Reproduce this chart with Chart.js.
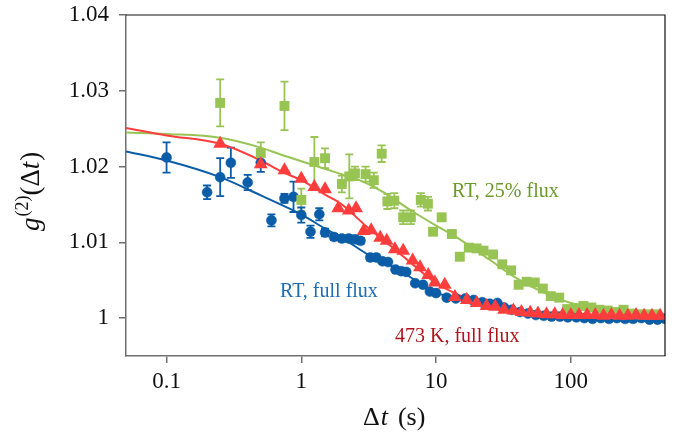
<!DOCTYPE html>
<html>
<head>
<meta charset="utf-8">
<script src="https://cdn.jsdelivr.net/npm/chart.js@4.4.0/dist/chart.umd.min.js"></script>
<style>
html, body { margin: 0; padding: 0; background: #fff; }
</style>
</head>
<body>
<canvas id="c" width="673" height="435"></canvas>
<script>
// tick labels
const xTicks = [0.1, 1, 10, 100];
const yTicks = [1, 1.01, 1.02, 1.03, 1.04];

// RT, full flux (circles)
const blueX = [0.1, 0.2, 0.25, 0.3, 0.4, 0.5, 0.6, 0.75, 0.875, 1, 1.17, 1.36, 1.5, 1.75, 2, 2.25, 2.5, 2.75, 3.25, 3.6,
  4, 4.4, 5, 5.5, 6, 7, 8, 9, 10, 12, 14, 16.5, 19, 22, 25, 28.5, 32, 36.5, 42, 48,
  55, 63, 72, 83, 95, 110, 126, 145, 167, 192, 220, 253, 290, 334, 384, 440, 500];
const blueY = [1.0212, 1.0166, 1.0186, 1.0205, 1.0179, 1.0205, 1.0129, 1.0158, 1.0160, 1.0136, 1.0114, 1.0137, 1.0113, 1.0107, 1.0105, 1.0105, 1.0104, 1.0102, 1.0080, 1.0080,
  1.0075, 1.0074, 1.0064, 1.0062, 1.0061, 1.0046, 1.0044, 1.0035, 1.0033, 1.0027, 1.0026, 1.0026, 1.0024, 1.0021, 1.0019, 1.0020, 1.0014, 1.0011, 1.0008, 1.0006,
  1.0004, 1.0003, 1.0002, 1.0002, 1.0001, 1.0001, 1.0000, 0.9999, 1.0000, 0.9999, 1.0000, 0.9999, 0.9999, 1.0000, 0.9998, 0.9998, 0.9999];
const blueErr = [0.002, 0.0009, 0.0025, 0.002, 0.001, 0.0012, 0.0008, 0.0006, 0.002, 0.001, 0.0008, 0.0008, 0.0005, 0.0004, 0.0004, 0.0004, 0.0004, 0.0004, 0.0004, 0.0004];

// 473 K, full flux (triangles)
const redX = [0.25, 0.5, 0.75, 1, 1.25, 1.5, 1.88, 2.25, 2.55, 2.9, 3.3, 3.85, 4.3, 4.95, 5.7, 6.7, 7.6, 8.75, 9.8, 11.6,
  13.8, 16.9, 20, 23.7, 27.5, 32, 37.5, 43, 50, 57, 66, 76, 87, 100, 115, 132, 152, 175, 200, 230,
  265, 305, 350, 400, 460];
const redY = [1.0230, 1.0203, 1.0195, 1.0184, 1.0173, 1.0170, 1.0145, 1.0142, 1.0145, 1.0115, 1.0116, 1.0106, 1.0102, 1.0091, 1.0089, 1.0076, 1.0067, 1.0057, 1.0047, 1.0044,
  1.0028, 1.0024, 1.0020, 1.0016, 1.0015, 1.0011, 1.0010, 1.0008, 1.0007, 1.0006, 1.0005, 1.0005, 1.0004, 1.0004, 1.0004, 1.0004, 1.0004, 1.0003, 1.0004, 1.0003,
  1.0003, 1.0004, 1.0003, 1.0003, 1.0003];

// RT, 25% flux (squares)
const greenX = [0.25, 0.5, 0.75, 1, 1.25, 1.5, 2, 2.27, 2.5, 3, 3.45, 3.95, 4.35, 4.9, 5.7, 6.5, 7.7, 8.7, 9.5, 11,
  13.1, 15, 17.5, 20, 22.5, 26.5, 31, 36, 41, 47, 54, 62, 71, 82, 94, 108, 124, 142, 163, 188,
  216, 246, 283, 325, 373, 428];
const greenY = [1.0284, 1.0218, 1.0280, 1.0156, 1.0206, 1.0211, 1.0177, 1.0187, 1.0191, 1.0190, 1.0182, 1.0217, 1.0154, 1.0155, 1.0133, 1.0133, 1.0156, 1.0151, 1.0114, 1.0133,
  1.0111, 1.0081, 1.0093, 1.0092, 1.0089, 1.0084, 1.0071, 1.0063, 1.0044, 1.0048, 1.0047, 1.0039, 1.0029, 1.0027, 1.0012, 1.0013, 1.0016, 1.0014, 1.0011, 1.0010,
  1.0008, 1.0011, 1.0006, 1.0005, 1.0005, 1.0005];
const greenErr = [0.0031, 0.0014, 0.0032, 0.0015, 0.0033, 0.0013, 0.0011, 0.0029, 0.0009, 0.001, 0.001, 0.0011, 0.001, 0.001, 0.0009, 0.0009, 0.0009, 0.0009];

// fit curves
const blueFitX = [0.05, 0.1, 0.25, 0.5, 0.7, 1, 1.5, 2, 3.25, 5, 7, 10, 15, 20, 30, 50, 100, 200, 500];
const blueFitY = [1.0220, 1.0208, 1.0186, 1.0162, 1.0150, 1.0137, 1.0118, 1.0106, 1.0082, 1.0066, 1.0050, 1.0034, 1.0024, 1.0017, 1.0011, 1.0006, 1.0003, 1.0001, 1.0000];
const redFitX = [0.05, 0.1, 0.25, 0.5, 0.7, 1, 1.5, 2, 3, 5, 7, 10, 15, 20, 30, 50, 100, 200, 500];
const redFitY = [1.0251, 1.0241, 1.0230, 1.0208, 1.0194, 1.0182, 1.0163, 1.0150, 1.0122, 1.0090, 1.0068, 1.0046, 1.0030, 1.0021, 1.0012, 1.0007, 1.0003, 1.0002, 1.0001];
const greenFitX = [0.05, 0.1, 0.25, 0.5, 0.7, 1, 1.9, 2.7, 4, 6.4, 10, 15, 25, 40, 70, 100, 200, 500];
const greenFitY = [1.0245, 1.0243, 1.0238, 1.0225, 1.0216, 1.0207, 1.0191, 1.0182, 1.0167, 1.0143, 1.0122, 1.0104, 1.0077, 1.0052, 1.0030, 1.0020, 1.0009, 1.0005];

const BLUE = '#0a5da6', RED = '#ff3d3d', GREEN = '#98c454';
const SERIF = '"Liberation Serif", "Times New Roman", serif';

const pts = (xs, ys) => xs.map((x, i) => ({ x: x, y: ys[i] }));

// error bars, drawn under the markers
const errorBars = {
  id: 'errorBars',
  beforeDatasetsDraw(chart) {
    const { ctx, chartArea, scales } = chart;
    ctx.save();
    ctx.beginPath();
    ctx.rect(chartArea.left, chartArea.top, chartArea.width, chartArea.height);
    ctx.clip();
    chart.data.datasets.forEach((ds, di) => {
      if (!ds.errors) return;
      const meta = chart.getDatasetMeta(di);
      ctx.strokeStyle = ds.borderColor;
      ctx.lineWidth = 1.8;
      meta.data.forEach((p, i) => {
        const e = ds.errors[i];
        if (!e) return;
        const v = ds.data[i].y;
        const y1 = scales.y.getPixelForValue(v + e);
        const y2 = scales.y.getPixelForValue(v - e);
        ctx.beginPath();
        ctx.moveTo(p.x, y1); ctx.lineTo(p.x, y2);
        ctx.moveTo(p.x - 4, y1); ctx.lineTo(p.x + 4, y1);
        ctx.moveTo(p.x - 4, y2); ctx.lineTo(p.x + 4, y2);
        ctx.stroke();
      });
    });
    ctx.restore();
  }
};

// frame, axis titles and series labels
const decorations = {
  id: 'decorations',
  afterDraw(chart) {
    const { ctx, chartArea: a } = chart;
    ctx.save();
    // top and right frame lines
    ctx.strokeStyle = '#111';
    ctx.lineWidth = 1.2;
    ctx.beginPath();
    ctx.moveTo(a.left, a.top);
    ctx.lineTo(a.right, a.top);
    ctx.lineTo(a.right, a.bottom);
    ctx.stroke();

    ctx.fillStyle = '#111';
    ctx.textBaseline = 'alphabetic';
    ctx.textAlign = 'left';

    // x title: Δt (s)
    let x = 363;
    ctx.font = '26px ' + SERIF;
    ctx.fillText('Δ', x, 425);
    x += ctx.measureText('Δ').width + 1;
    ctx.font = 'italic 26px ' + SERIF;
    ctx.fillText('t', x, 425);
    x += ctx.measureText('t').width + 10;
    ctx.font = '26px ' + SERIF;
    ctx.fillText('(s)', x, 425);

    // y title: g(2)(Δt)
    ctx.translate(39, 231);
    ctx.rotate(-Math.PI / 2);
    let u = 0;
    ctx.font = 'italic 27px ' + SERIF;
    ctx.fillText('g', u, 0);
    u += ctx.measureText('g').width + 1;
    ctx.font = '18px ' + SERIF;
    ctx.fillText('(2)', u, -11);
    u += ctx.measureText('(2)').width;
    ctx.font = '27px ' + SERIF;
    ctx.fillText('(Δ', u, 0);
    u += ctx.measureText('(Δ').width;
    ctx.font = 'italic 27px ' + SERIF;
    ctx.fillText('t', u, 0);
    u += ctx.measureText('t').width + 1;
    ctx.font = '27px ' + SERIF;
    ctx.fillText(')', u, 0);
    ctx.setTransform(1, 0, 0, 1, 0, 0);

    // series labels
    ctx.font = '20px ' + SERIF;
    ctx.fillStyle = '#6a9a2a';
    ctx.fillText('RT, 25% flux', 452, 197);
    ctx.fillStyle = '#1e6cb0';
    ctx.fillText('RT, full flux', 280, 297);
    ctx.fillStyle = '#b0141c';
    ctx.fillText('473 K, full flux', 395, 342);
    ctx.restore();
  }
};

const tickFont = { family: SERIF, size: 23 };

new Chart(document.getElementById('c'), {
  type: 'scatter',
  data: {
    datasets: [
      { data: pts(redX, redY), pointStyle: 'triangle', pointRadius: 8, backgroundColor: RED, borderColor: RED, borderWidth: 0 },
      { data: pts(greenX, greenY), errors: greenErr, pointStyle: 'rect', pointRadius: 7, backgroundColor: GREEN, borderColor: GREEN, borderWidth: 0 },
      { data: pts(blueX, blueY), errors: blueErr, pointStyle: 'circle', pointRadius: 5, backgroundColor: BLUE, borderColor: BLUE, borderWidth: 0.5 },
      { data: pts(redFitX, redFitY), showLine: true, pointRadius: 0, borderColor: RED, borderWidth: 2, cubicInterpolationMode: 'monotone' },
      { data: pts(greenFitX, greenFitY), showLine: true, pointRadius: 0, borderColor: GREEN, borderWidth: 2, cubicInterpolationMode: 'monotone' },
      { data: pts(blueFitX, blueFitY), showLine: true, pointRadius: 0, borderColor: BLUE, borderWidth: 2, cubicInterpolationMode: 'monotone' }
    ]
  },
  options: {
    responsive: false,
    animation: false,
    devicePixelRatio: 1,
    layout: { padding: { left: 0, right: 8, top: 15, bottom: 0 } },
    plugins: { legend: { display: false }, tooltip: { enabled: false } },
    scales: {
      x: {
        type: 'logarithmic',
        min: 0.05,
        max: 500,
        afterFit: s => { s.height = 79; s.paddingLeft = 0; s.paddingRight = 0; },
        afterBuildTicks: s => { s.ticks = xTicks.map(v => ({ value: v })); },
        ticks: { callback: v => String(v), font: tickFont, color: '#111', padding: 5, maxRotation: 0, autoSkip: false },
        grid: { drawOnChartArea: false, tickLength: 7, color: '#707070', lineWidth: 1.5 },
        border: { color: '#707070', width: 1.5 }
      },
      y: {
        type: 'linear',
        min: 0.995,
        max: 1.04,
        afterFit: s => { s.width = 126; s.paddingTop = 0; s.paddingBottom = 0; },
        afterBuildTicks: s => { s.ticks = yTicks.map(v => ({ value: v })); },
        ticks: { callback: v => (v === 1 ? '1' : v.toFixed(2)), font: tickFont, color: '#111', padding: 10, autoSkip: false },
        grid: { drawOnChartArea: false, tickLength: 7, color: '#707070', lineWidth: 1.5 },
        border: { color: '#707070', width: 1.5 }
      }
    }
  },
  plugins: [errorBars, decorations]
});
</script>
</body>
</html>
